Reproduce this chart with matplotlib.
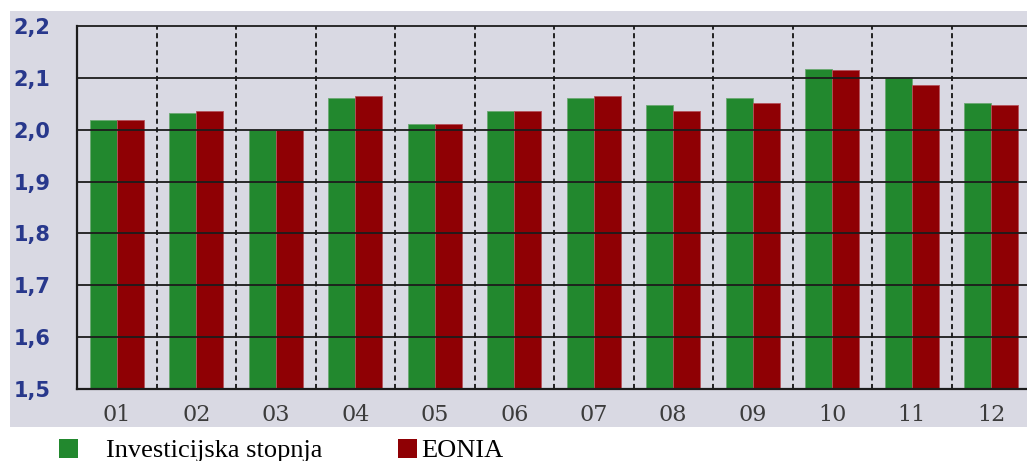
import matplotlib.pyplot as plt
from matplotlib.patches import Rectangle
import numpy as np

# monthly averages, %
months = ["01", "02", "03", "04", "05", "06", "07", "08", "09", "10", "11", "12"]
investicijska = [2.019, 2.033, 1.999, 2.061, 2.011, 2.037, 2.061, 2.048, 2.062, 2.118, 2.100, 2.051]
eonia = [2.019, 2.037, 1.999, 2.065, 2.011, 2.037, 2.065, 2.037, 2.051, 2.116, 2.087, 2.048]
y_ticks = [1.5, 1.6, 1.7, 1.8, 1.9, 2.0, 2.1, 2.2]
series_names = ["Investicijska stopnja", "EONIA"]

GREEN = "#22882e"
RED = "#8f0004"
PANEL = "#d9d9e3"
W, H = 1027, 461


def px_box(x0, y0, x1, y1):
    # pixel box (top-left origin) -> figure fraction [left, bottom, width, height]
    return [x0 / W, 1 - y1 / H, (x1 - x0) / W, (y1 - y0) / H]


fig = plt.figure(figsize=(W / 100, H / 100), dpi=100)
fig.patch.set_facecolor("white")

# grey panel behind the plot
fig.add_artist(Rectangle((10 / W, 1 - 427 / H), 1.1, (427 - 11) / H,
                         transform=fig.transFigure, facecolor=PANEL,
                         edgecolor="none", zorder=-1))

ax = fig.add_axes(px_box(77, 26, 1031, 389))
ax.set_facecolor("none")

x = np.arange(len(months))
width = 0.34
ax.bar(x - width / 2, investicijska, width, color=GREEN, edgecolor="#6aa872",
       linewidth=0.6, zorder=2)
ax.bar(x + width / 2, eonia, width, color=RED, edgecolor="#b5515a",
       linewidth=0.6, zorder=2)

ax.set_xlim(-0.5, len(months) - 0.5)
ax.set_ylim(y_ticks[0], y_ticks[-1])

# dashed month separators
for sep in np.arange(0.5, len(months) - 1, 1):
    ax.axvline(sep, color="#222222", lw=1.4, ls=(0, (2.6, 1.8)), zorder=1)

# solid horizontal grid over the bars
for yv in y_ticks[1:]:
    ax.axhline(yv, color="#1c1c1c", lw=1.3, zorder=3, clip_on=False)

for side in ["top", "right"]:
    ax.spines[side].set_visible(False)
for side in ["left", "bottom"]:
    ax.spines[side].set_linewidth(1.6)
    ax.spines[side].set_color("#1c1c1c")
    ax.spines[side].set_zorder(4)

ax.set_yticks(y_ticks, labels=[f"{v:.1f}".replace(".", ",") for v in y_ticks])
ax.set_xticks(x, labels=months)
ax.tick_params(axis="y", length=0, pad=19, labelsize=15, labelcolor="#28388c")
ax.tick_params(axis="x", length=0, pad=11, labelsize=16, labelcolor="#3c3c3c")
for lbl in ax.get_yticklabels():
    lbl.set_fontweight("bold")
    lbl.set_family("DejaVu Sans")
for lbl in ax.get_xticklabels():
    lbl.set_family("DejaVu Serif")

# legend below the panel
legend_items = [(59, 106, GREEN), (398, 421, RED)]
for (sq_x, txt_x, col), name in zip(legend_items, series_names):
    fig.add_artist(Rectangle((sq_x / W, 1 - 458 / H), 19 / W, 19 / H,
                             transform=fig.transFigure, facecolor=col,
                             edgecolor="none"))
    fig.text(txt_x / W, 1 - 457 / H, name, fontsize=19,
             family="Liberation Serif", va="baseline", ha="left", color="black")

fig.savefig("out.png", dpi=100)
